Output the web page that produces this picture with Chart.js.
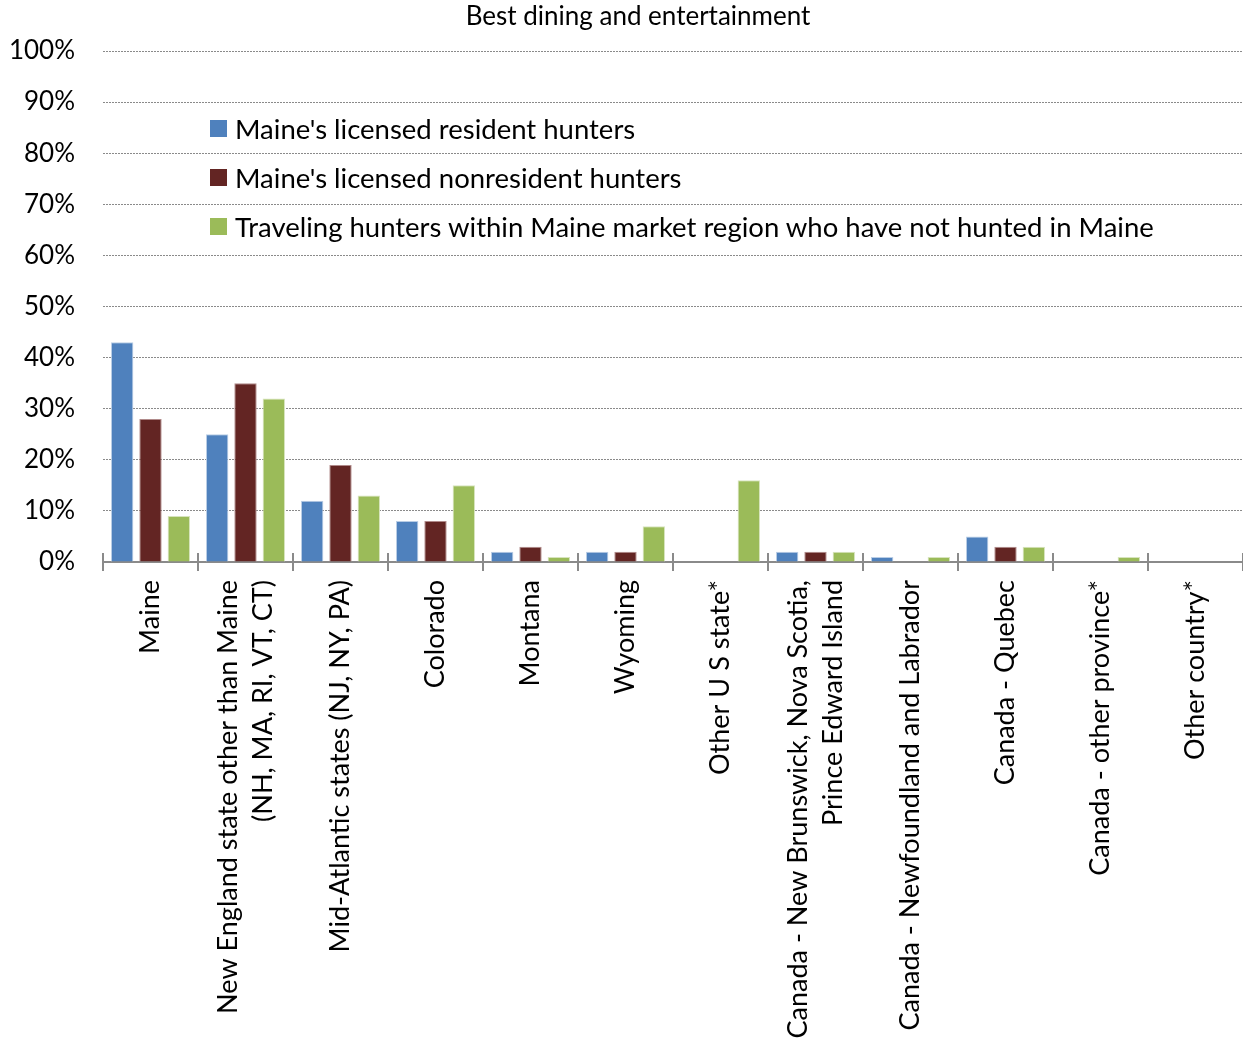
<!DOCTYPE html>
<html>
<head>
<meta charset="utf-8">
<title>Best dining and entertainment</title>
<script src="https://cdn.jsdelivr.net/npm/chart.js@4.4.1/dist/chart.umd.min.js"></script>
<style>
  html, body { margin: 0; padding: 0; background: #fff; }
  #wrap { position: relative; width: 1243px; height: 1038px; }
  #legend { position: absolute; left: 210px; top: 104px; font-family: Lato, sans-serif; font-size: 27.5px; color: #000; }
  #legend .row { height: 49px; display: flex; align-items: center; white-space: nowrap; }
  #legend .box { width: 17px; height: 17px; margin-right: 8px; flex: none; }
</style>
</head>
<body>
<div id="wrap">
  <canvas id="chart" width="1243" height="1038"></canvas>
  <div id="legend"></div>
</div>
<script>
// Datos: porcentaje de cazadores que eligen cada destino
const titulo = "Best dining and entertainment";

const categorias = [
  "Maine",
  ["New England state other than Maine", "(NH, MA, RI, VT, CT)"],
  "Mid-Atlantic states (NJ, NY, PA)",
  "Colorado",
  "Montana",
  "Wyoming",
  "Other U S state*",
  ["Canada - New Brunswick, Nova Scotia,", "Prince Edward Island"],
  "Canada - Newfoundland and Labrador",
  "Canada - Quebec",
  "Canada - other province*",
  "Other country*"
];

const residentes = [43, 25, 12, 8, 2, 2, 0, 2, 1, 5, 0, 0];
const noResidentes = [28, 35, 19, 8, 3, 2, 0, 2, 0, 3, 0, 0];
const viajeros = [9, 32, 13, 15, 1, 7, 16, 2, 1, 3, 1, 0];

const nombresSeries = [
  "Maine's licensed resident hunters",
  "Maine's licensed nonresident hunters",
  "Traveling hunters within Maine market region who have not hunted in Maine"
];

const ticksY = [0, 10, 20, 30, 40, 50, 60, 70, 80, 90, 100];

const colores = ["#4F81BD", "#632523", "#9BBB59"];
const bordes = ["#B9CDE5", "#B08A8A", "#D7E4BD"];

const FUENTE = "Lato, sans-serif";
const GRIS = "#8a8a8a";

// Título y etiquetas del eje X giradas 90°, con las líneas centradas sobre cada categoría
const etiquetasX = {
  id: "etiquetasX",
  afterDraw(chart) {
    const { ctx, scales: { x } } = chart;
    const interlineado = 35;
    ctx.save();

    ctx.font = "26px " + FUENTE;
    ctx.fillStyle = "#000";
    ctx.textAlign = "center";
    ctx.textBaseline = "middle";
    ctx.fillText(titulo, 638, 17);

    ctx.font = "27px " + FUENTE;
    ctx.textAlign = "right";
    categorias.forEach((etiqueta, i) => {
      const lineas = Array.isArray(etiqueta) ? etiqueta : [etiqueta];
      const cx = x.getPixelForTick(i);
      lineas.forEach((linea, j) => {
        const desplaz = (j - (lineas.length - 1) / 2) * interlineado;
        ctx.save();
        ctx.translate(cx + desplaz, x.top + 18);
        ctx.rotate(-Math.PI / 2);
        ctx.fillText(linea, 0, 0);
        ctx.restore();
      });
    });

    // Marcas cruzadas entre categorías
    ctx.strokeStyle = GRIS;
    ctx.lineWidth = 2;
    for (let i = 0; i <= categorias.length; i++) {
      const px = Math.round(x.getPixelForValue(i - 0.5));
      ctx.beginPath();
      ctx.moveTo(px, x.top - 9);
      ctx.lineTo(px, x.top + 9);
      ctx.stroke();
    }
    ctx.restore();
  }
};

const series = [residentes, noResidentes, viajeros];

const grafico = new Chart(document.getElementById("chart"), {
  type: "bar",
  data: {
    labels: categorias,
    datasets: series.map((datos, i) => ({
      label: nombresSeries[i],
      data: datos,
      backgroundColor: colores[i],
      borderColor: bordes[i],
      borderWidth: 1,
      barPercentage: 0.79,
      categoryPercentage: 0.894
    }))
  },
  options: {
    responsive: false,
    animation: false,
    layout: { padding: { top: 51, left: 0, right: 0, bottom: 0 } },
    plugins: {
      legend: { display: false },
      tooltip: { enabled: false },
      title: { display: false }
    },
    scales: {
      x: {
        ticks: { display: false },
        grid: { display: false },
        border: { display: true, color: GRIS, width: 2 },
        afterFit: (escala) => { escala.height = 476; }
      },
      y: {
        min: 0,
        max: 100,
        afterBuildTicks: (escala) => { escala.ticks = ticksY.map((v) => ({ value: v })); },
        ticks: {
          color: "#000",
          padding: 28,
          font: { family: FUENTE, size: 26 },
          callback: (v) => v + "%"
        },
        grid: {
          color: (ctx) => ctx.tick && ctx.tick.value === 0 ? "rgba(0,0,0,0)" : GRIS,
          lineWidth: 1,
          drawTicks: false
        },
        border: { display: false, dash: [2, 1] },
        afterFit: (escala) => { escala.width = 103; }
      }
    }
  },
  plugins: [etiquetasX]
});

// Leyenda dentro del área del gráfico
const leyenda = document.getElementById("legend");
grafico.data.datasets.forEach((ds) => {
  const fila = document.createElement("div");
  fila.className = "row";
  const caja = document.createElement("span");
  caja.className = "box";
  caja.style.background = ds.backgroundColor;
  const texto = document.createElement("span");
  texto.textContent = ds.label;
  fila.appendChild(caja);
  fila.appendChild(texto);
  leyenda.appendChild(fila);
});
</script>
</body>
</html>
